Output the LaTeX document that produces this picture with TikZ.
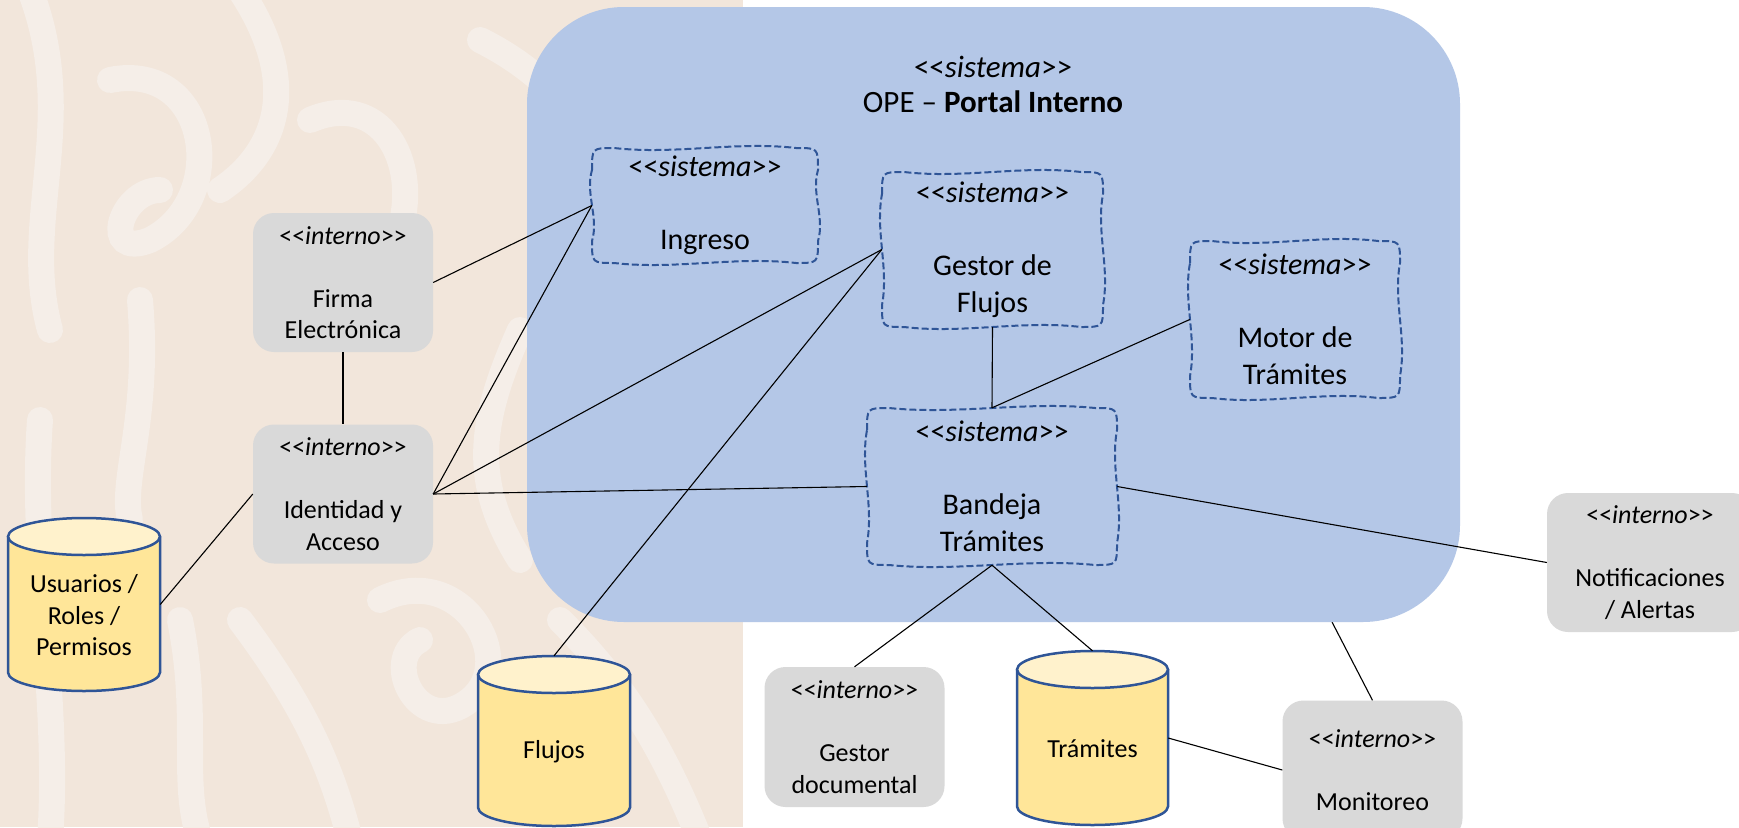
\documentclass[tikz,border=0pt]{standalone}
\usepackage{fontspec}
\setmainfont{Carlito}
\usetikzlibrary{calc}
\definecolor{sysblue}{HTML}{B4C7E7}
\definecolor{dashblue}{HTML}{2F5597}
\definecolor{intgray}{HTML}{D9D9D9}
\definecolor{cylbody}{HTML}{FFE699}
\definecolor{cyltop}{HTML}{FFF2CC}
\definecolor{bgbeige}{HTML}{F2E6DB}
\definecolor{bglight}{HTML}{F5EEE8}
\newcommand\stereo[1]{<\kern0pt<\textit{#1}>\kern0pt>}
\tikzset{
  conn/.style={draw=black, line width=1.1pt},
  intbox/.style={fill=intgray, rounded corners=21pt, minimum width=180pt, minimum height=139pt,
    inner sep=0pt, align=center, font=\fontsize{26}{31.5}\selectfont},
  sysbox/.style={inner sep=0pt, align=center, font=\fontsize{30}{36.5}\selectfont},
  cyltext/.style={inner sep=0pt, align=center, font=\fontsize{26}{31.5}\selectfont},
  wavyline/.style={draw=dashblue, line width=2pt, dash pattern=on 7pt off 3pt},
  cylline/.style={draw=dashblue, line width=2.5pt},
  bgstroke/.style={draw=bglight, line width=26pt, line cap=round},
}
% wavy dashed frame: x1 y1 x2 y2
\newcommand\wavyframe[4]{%
  \draw[wavyline] (#1,{#2+22}) .. controls (#1,#2) .. ({#1+22},#2)
    .. controls ({#1+22+(#3-#1-44)/3},{#2+7}) and ({#3-22-(#3-#1-44)/3},{#2-7}) .. ({#3-22},#2)
    .. controls (#3,#2) .. (#3,{#2+22})
    .. controls ({#3-7},{#2+22+(#4-#2-44)/3}) and ({#3+7},{#4-22-(#4-#2-44)/3}) .. (#3,{#4-22})
    .. controls (#3,#4) .. ({#3-22},#4)
    .. controls ({#3-22-(#3-#1-44)/3},{#4-7}) and ({#1+22+(#3-#1-44)/3},{#4+7}) .. ({#1+22},#4)
    .. controls (#1,#4) .. (#1,{#4-22})
    .. controls ({#1+7},{#4-22-(#4-#2-44)/3}) and ({#1-7},{#2+22+(#4-#2-44)/3}) .. cycle;}
% system node: name x1 y1 x2 y2 text
\newcommand\sysnode[6]{%
  \wavyframe{#2}{#3}{#4}{#5}
  \pgfmathsetmacro\sw{#4-#2}\pgfmathsetmacro\sh{#5-#3}
  \node[sysbox, minimum width=\sw pt, minimum height=\sh pt] (#1) at ({(#2+#4)/2},{(#3+#5)/2}) {#6};}
% cylinder: name x1 y1 x2 y2 text
\newcommand\cylnode[6]{%
  \pgfmathsetmacro\crx{(#4-#2)/2}\pgfmathsetmacro\ccx{(#2+#4)/2}
  \pgfmathsetmacro\sw{#4-#2}\pgfmathsetmacro\sh{#5-#3}
  \fill[cylbody] (#2,{#3+18.5}) -- (#2,{#5-18.5}) arc[start angle=180, end angle=360, x radius=\crx pt, y radius=18.5pt] -- (#4,{#3+18.5}) -- cycle;
  \draw[cylline] (#2,{#3+18.5}) -- (#2,{#5-18.5}) arc[start angle=180, end angle=360, x radius=\crx pt, y radius=18.5pt] -- (#4,{#3+18.5});
  \draw[cylline, fill=cyltop] (\ccx,{#3+18.5}) ellipse [x radius=\crx pt, y radius=18.5pt];
  \node[minimum width=\sw pt, minimum height=\sh pt, inner sep=0pt] (#1) at (\ccx,{(#3+#5)/2}) {};
  \node[cyltext] (#1T) at (\ccx,{(#3+#5)/2+11}) {#6};}
\begin{document}
\begin{tikzpicture}[x=1pt, y=-1pt]
\useasboundingbox (0,0) rectangle (1739,827);
\clip (0,0) rectangle (1739,827);
\fill[white] (0,0) rectangle (1739,827);
\fill[bgbeige] (0,0) rectangle (743,827);
% decorative background pattern
\draw[bgstroke] (30,-10) .. controls (80,120) and (20,220) .. (50,330);
\draw[bgstroke] (110,80) .. controls (210,60) and (230,200) .. (150,240) .. controls (100,260) and (120,190) .. (160,190);
\draw[bgstroke] (240,-10) .. controls (300,80) and (280,150) .. (220,190);
\draw[bgstroke] (310,120) .. controls (380,90) and (420,160) .. (400,230) .. controls (380,290) and (300,300) .. (270,260);
\draw[bgstroke] (480,40) .. controls (560,80) and (600,140) .. (640,240);
\draw[bgstroke] (40,420) .. controls (30,560) and (60,700) .. (50,840);
\draw[bgstroke] (140,300) .. controls (150,420) and (120,480) .. (130,520);
\draw[bgstroke] (240,620) .. controls (300,700) and (330,760) .. (350,840);
\draw[bgstroke] (380,600) .. controls (460,560) and (520,660) .. (470,700) .. controls (420,740) and (380,660) .. (420,640);
\draw[bgstroke] (560,620) .. controls (620,680) and (660,740) .. (700,840);
\draw[bgstroke] (180,620) .. controls (200,720) and (180,780) .. (200,840);
\draw[bgstroke] (520,330) .. controls (480,420) and (470,480) .. (520,560);
\draw[bgstroke] (660,20) .. controls (700,120) and (720,240) .. (700,360);
% connector behind the system frame
\node[intbox] (mon) at (1372.5,770) {\stereo{interno}\\[31.5pt]Monitoreo};
\coordinate (rectbot) at (1332,622);
\draw[conn] (mon.north) -- (rectbot);
% system frame
\node[fill=sysblue, rounded corners=97pt, minimum width=933pt, minimum height=615pt, inner sep=0pt] (portal) at (993.5,314.5) {};
\node[inner sep=0pt, align=center, font=\fontsize{31}{35}\selectfont] (title) at (993,84.5)
  {\stereo{sistema}\\OPE – \textbf{Portal Interno}};
% systems
\sysnode{ingreso}{592}{148}{818}{263}{\stereo{sistema}\\[36.5pt]Ingreso}
\sysnode{gestor}{882}{172}{1103}{327}{\stereo{sistema}\\[36.5pt]Gestor de\\Flujos}
\sysnode{motor}{1190}{241}{1400}{398}{\stereo{sistema}\\[36.5pt]Motor de\\Trámites}
\sysnode{bandeja}{867}{408}{1117}{565}{\stereo{sistema}\\[36.5pt]Bandeja\\Trámites}
% internal components
\node[intbox] (firma) at (343,282.5) {\stereo{interno}\\[31.5pt]Firma\\Electrónica};
\node[intbox] (ident) at (343,494) {\stereo{interno}\\[31.5pt]Identidad y\\Acceso};
\node[intbox, minimum height=140pt] (gdoc) at (854.5,737) {\stereo{interno}\\[31.5pt]Gestor\\documental};
\node[intbox, minimum width=206pt] (notif) at (1650,562.5) {\stereo{interno}\\[31.5pt]Notificaciones\\/ Alertas};
% data stores
\cylnode{usuarios}{8}{518}{160}{691}{Usuarios /\\Roles /\\Permisos}
\cylnode{flujos}{478}{656}{630}{826}{Flujos}
\cylnode{tramites}{1017}{651}{1168}{825}{Trámites}
% connectors
\draw[conn] (firma.east) -- (ingreso.west);
\draw[conn] (firma.south) -- (ident.north);
\draw[conn] (ident.east) -- (ingreso.west);
\draw[conn] (ident.east) -- (gestor.west);
\draw[conn] (ident.east) -- (bandeja.west);
\draw[conn] (usuarios.east) -- (ident.west);
\draw[conn] (flujos.north) -- (gestor.west);
\draw[conn] (gestor.south) -- (bandeja.north);
\draw[conn] (motor.west) -- (bandeja.north);
\draw[conn] (bandeja.east) -- (notif.west);
\draw[conn] (bandeja.south) -- (gdoc.north);
\draw[conn] (bandeja.south) -- (tramites.north);
\draw[conn] (tramites.east) -- (mon.west);
\end{tikzpicture}
\end{document}
